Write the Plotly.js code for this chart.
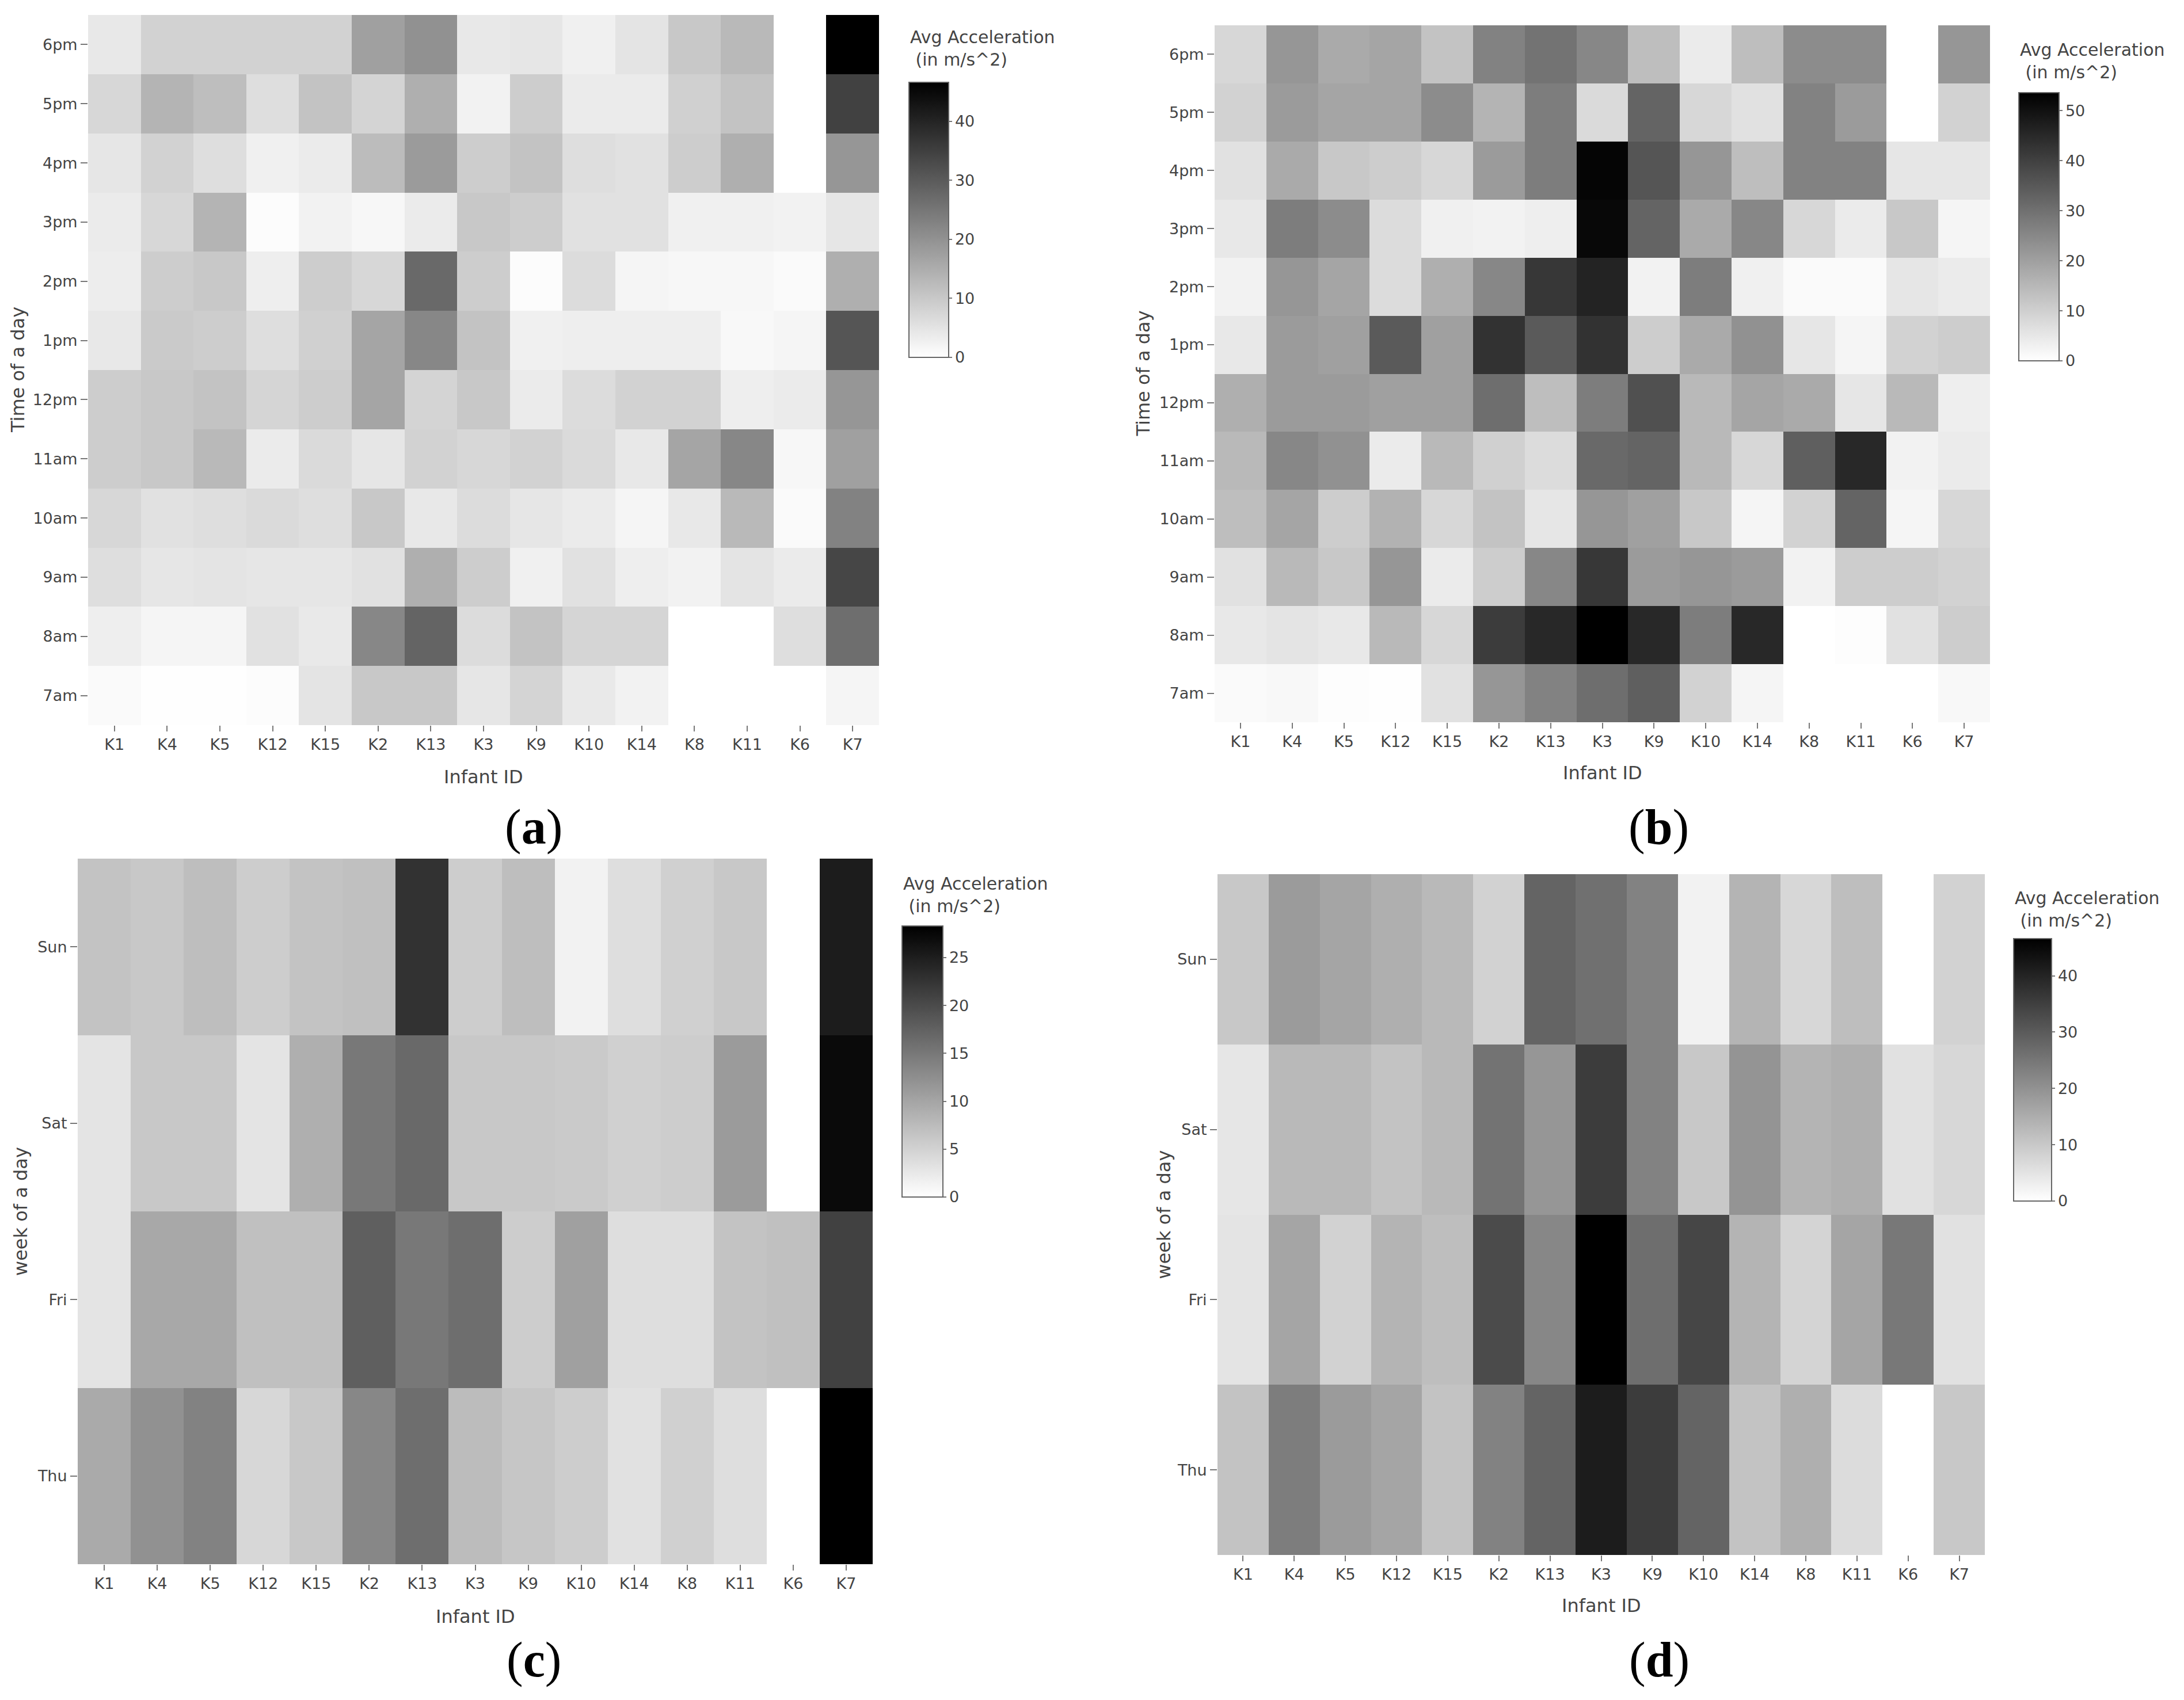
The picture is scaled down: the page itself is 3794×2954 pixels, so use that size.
<!DOCTYPE html>
<html><head><meta charset="utf-8">
<script src="https://cdn.plot.ly/plotly-3.0.1.min.js"></script>
<style>html,body{margin:0;padding:0;background:#fff}#chart{width:3794px;height:2954px}</style>
</head><body><div id="chart"></div>
<script>
// ---------------- DATA ----------------
const infantIds = ['K1','K4','K5','K12','K15','K2','K13','K3','K9','K10','K14','K8','K11','K6','K7'];
const hoursOfDay = ['7am','8am','9am','10am','11am','12pm','1pm','2pm','3pm','4pm','5pm','6pm'];
const daysOfWeek = ['Thu','Fri','Sat','Sun'];
const colorbarTitle = 'Avg Acceleration<br> (in m/s^2)';

// (a) average acceleration by hour of day (rows 7am -> 6pm), columns follow infantIds
const accelHourA = [
  [0.9,0.2,0.2,0.5,4.9,10.0,10.0,4.6,7.9,4.0,2.4,0,0,0,1.8],          // 7am
  [3.1,1.8,1.8,5.5,4.0,21.9,28.3,6.4,11.0,7.7,7.7,0,0,6.0,26.5],      // 8am
  [6.0,4.6,4.9,4.6,4.6,5.5,14.6,9.1,2.7,5.5,3.1,2.4,4.9,3.7,33.8],    // 9am
  [7.3,5.5,6.0,6.8,6.0,10.0,4.2,6.4,4.6,3.7,1.8,4.2,12.8,0.9,22.8],   // 10am
  [9.1,10.0,12.8,3.7,6.8,4.6,8.2,7.3,8.2,6.8,4.2,16.4,21.9,1.5,17.4], // 11am
  [9.1,10.0,11.0,7.7,9.1,16.4,7.9,10.0,3.7,6.4,8.2,8.2,3.1,3.7,19.2], // 12pm
  [4.2,9.7,9.1,6.0,8.6,16.4,21.9,11.0,2.7,3.1,3.1,3.1,1.3,1.8,31.1],  // 1pm
  [3.3,9.1,10.0,3.1,9.1,7.3,27.4,9.1,0.5,6.4,1.8,1.5,1.5,0.9,14.6],   // 2pm
  [3.7,7.3,13.7,0.5,2.4,1.5,3.7,10.0,9.1,5.5,5.5,2.7,2.7,2.4,4.6],    // 3pm
  [4.6,8.2,6.0,2.7,3.7,12.2,18.3,9.1,11.0,6.0,5.5,9.1,14.6,null,19.2],// 4pm
  [7.3,13.7,11.9,6.0,11.0,7.9,14.6,2.4,9.1,3.7,3.7,8.6,11.0,null,34.7],// 5pm
  [4.2,8.2,8.2,8.2,8.2,17.4,20.1,4.2,4.6,2.7,4.9,10.0,12.8,null,46.6] // 6pm
];

// (b) average acceleration by hour of day (rows 7am -> 6pm)
const accelHourB = [
  [1.1,1.5,0.4,0.2,6.3,22.1,26.3,30.5,33.6,9.5,2.1,0,0,0,1.5],           // 7am
  [4.8,5.7,4.8,14.7,8.4,41.0,45.2,53.6,45.2,27.3,45.2,0,0.4,6.3,10.5],   // 8am
  [6.3,14.7,11.6,22.1,4.2,10.5,25.2,42.0,21.0,22.1,21.0,2.7,10.5,10.5,9.5], // 9am
  [13.7,18.9,10.5,16.2,8.4,12.6,5.3,22.1,20.0,11.6,2.1,9.5,32.6,2.1,8.4],   // 10am
  [14.7,25.2,23.1,4.2,14.7,9.9,7.4,31.5,32.6,14.7,8.4,33.6,45.2,2.7,4.2],   // 11am
  [16.8,21.0,21.0,20.0,20.0,30.5,13.7,27.3,36.8,14.7,18.9,17.9,5.3,14.7,3.6],// 12pm
  [4.8,21.0,20.0,34.7,20.0,43.1,34.7,43.1,10.5,17.9,23.1,5.3,2.1,9.5,10.5], // 1pm
  [2.7,22.1,18.9,7.4,16.8,25.2,42.0,46.2,2.7,27.3,3.2,1.1,1.1,5.3,4.2],     // 2pm
  [4.8,27.3,24.2,7.4,3.2,2.7,3.6,51.9,32.6,17.9,25.2,8.4,4.2,11.6,2.1],     // 3pm
  [6.3,17.9,11.6,10.5,8.4,21.0,27.3,52.6,35.7,22.1,13.7,26.3,26.3,5.3,5.3], // 4pm
  [9.5,21.0,18.9,18.9,24.2,15.8,27.3,7.8,32.6,8.4,6.3,26.3,21.0,null,9.5],  // 5pm
  [8.4,22.1,17.9,18.9,12.6,26.3,29.4,25.2,13.7,4.2,13.7,24.2,24.2,null,22.1]// 6pm
];

// (c) average acceleration by day of week (rows Thu -> Sun)
const accelDayC = [
  [9.4,12.2,13.9,4.4,6.1,13.3,16.1,7.4,6.3,5.5,3.3,5.2,3.7,null,28.3], // Thu
  [3.0,9.7,9.7,7.0,7.0,17.8,15.0,16.1,5.5,10.5,3.7,3.7,6.7,7.0,21.1],  // Fri
  [3.0,6.1,6.1,3.0,8.9,15.0,16.7,6.1,6.1,5.9,5.2,5.5,11.1,null,27.2],  // Sat
  [6.7,6.1,7.2,5.5,6.7,7.0,22.8,5.5,7.2,1.4,3.7,5.2,6.1,null,25.2]     // Sun
];

// (d) average acceleration by day of week (rows Thu -> Sun)
const accelDayD = [
  [11.0,23.8,18.3,16.4,11.0,22.8,28.3,41.5,35.6,28.3,11.0,14.6,6.4,null,10.0], // Thu
  [4.9,16.4,8.2,13.7,11.9,32.9,21.9,46.6,26.5,33.8,13.7,7.9,16.4,24.7,5.5],    // Fri
  [4.6,12.8,12.8,11.0,12.8,25.6,19.2,35.6,22.8,10.0,19.5,13.7,14.6,5.5,7.3],   // Sat
  [10.0,18.3,16.4,14.6,12.8,8.2,28.3,26.1,22.8,2.4,13.7,7.3,11.9,null,8.2]     // Sun
];

// ---------------- LAYOUT ----------------
const W = 3794, H = 2954;
const FONT = 'DejaVu Sans, Verdana, sans-serif';
const TXT = '#444';
const fx = p => p / W;
const fy = p => 1 - p / H;

const panels = [
  {z: accelHourA, y: hoursOfDay, yTitle: 'Time of a day', label: 'a', dtick: 10,
   plot: [153, 1527, 26, 1260], cb: [1579, 1648, 143, 621], cbTitleMid: 84,
   yTitleX: 31, xTitleY: 1350, labelXY: [927, 1437]},
  {z: accelHourB, y: hoursOfDay, yTitle: 'Time of a day', label: 'b', dtick: 10,
   plot: [2110, 3457, 44, 1255], cb: [3507, 3577, 161, 627], cbTitleMid: 106,
   yTitleX: 1985, xTitleY: 1343, labelXY: [2881, 1437]},
  {z: accelDayC, y: daysOfWeek, yTitle: 'week of a day', label: 'c', dtick: 5,
   plot: [135, 1516, 1492, 2718], cb: [1567, 1638, 1609, 2080], cbTitleMid: 1555,
   yTitleX: 36, xTitleY: 2809, labelXY: [927, 2884]},
  {z: accelDayD, y: daysOfWeek, yTitle: 'week of a day', label: 'd', dtick: 10,
   plot: [2115, 3448, 1519, 2702], cb: [3498, 3564, 1631, 2087], cbTitleMid: 1580,
   yTitleX: 2021, xTitleY: 2790, labelXY: [2882, 2884]}
];

const traces = [];
const layout = {
  width: W, height: H,
  margin: {l: 0, r: 0, t: 0, b: 0},
  paper_bgcolor: '#fff', plot_bgcolor: '#fff',
  font: {family: FONT, color: TXT, size: 27},
  showlegend: false,
  annotations: []
};

panels.forEach((p, i) => {
  const sfx = i === 0 ? '' : String(i + 1);
  const [l, r, t, b] = p.plot;
  const [cl, cr, ct, cbt] = p.cb;
  const vals = p.z.flat().filter(v => v !== null);
  const zmax = Math.max(...vals);
  traces.push({
    type: 'heatmap',
    x: infantIds, y: p.y, z: p.z,
    xaxis: 'x' + sfx, yaxis: 'y' + sfx,
    colorscale: [[0, '#ffffff'], [1, '#000000']],
    zmin: 0, zmax: zmax,
    hoverongaps: false,
    colorbar: {
      x: fx(cl), xanchor: 'left', xpad: 0,
      y: fy(cbt), yanchor: 'bottom', ypad: 0,
      len: cbt - ct, lenmode: 'pixels',
      thickness: cr - cl, thicknessmode: 'pixels',
      outlinewidth: 2, outlinecolor: '#666',
      ticks: 'outside', ticklen: 5, tickwidth: 2, tickcolor: '#777',
      tick0: 0, dtick: p.dtick,
      tickfont: {family: FONT, size: 27, color: TXT}
    }
  });
  // colorbar title (placed above the bar)
  layout.annotations.push({
    xref: 'paper', yref: 'paper', x: fx(cl), y: fy(p.cbTitleMid),
    xanchor: 'left', yanchor: 'middle', align: 'left', showarrow: false,
    text: colorbarTitle, font: {family: FONT, size: 30, color: TXT}
  });
  const axCommon = {
    type: 'category', showgrid: false, zeroline: false, showline: false,
    ticks: 'outside', ticklen: 10, tickwidth: 2, tickcolor: '#777',
    tickfont: {family: FONT, size: 27, color: TXT}, fixedrange: true
  };
  layout['xaxis' + sfx] = Object.assign({}, axCommon, {
    domain: [fx(l), fx(r)], anchor: 'y' + sfx
  });
  layout['yaxis' + sfx] = Object.assign({}, axCommon, {
    domain: [fy(b), fy(t)], anchor: 'x' + sfx, ticklen: 12
  });
  // axis titles
  layout.annotations.push({
    xref: 'paper', yref: 'paper', x: fx((l + r) / 2), y: fy(p.xTitleY),
    xanchor: 'center', yanchor: 'middle', showarrow: false,
    text: 'Infant ID', font: {family: FONT, size: 32, color: TXT}
  });
  layout.annotations.push({
    xref: 'paper', yref: 'paper', x: fx(p.yTitleX), y: fy((t + b) / 2),
    xanchor: 'center', yanchor: 'middle', showarrow: false, textangle: -90,
    text: p.yTitle, font: {family: FONT, size: 32, color: TXT}
  });
  // panel label
  layout.annotations.push({
    xref: 'paper', yref: 'paper', x: fx(p.labelXY[0]), y: fy(p.labelXY[1]),
    xanchor: 'center', yanchor: 'middle', showarrow: false,
    text: '(<b>' + p.label + '</b>)',
    font: {family: 'Liberation Serif, Times New Roman, serif', size: 86, color: '#000'}
  });
});

Plotly.newPlot('chart', traces, layout, {displayModeBar: false, staticPlot: true});
</script>
</body></html>
